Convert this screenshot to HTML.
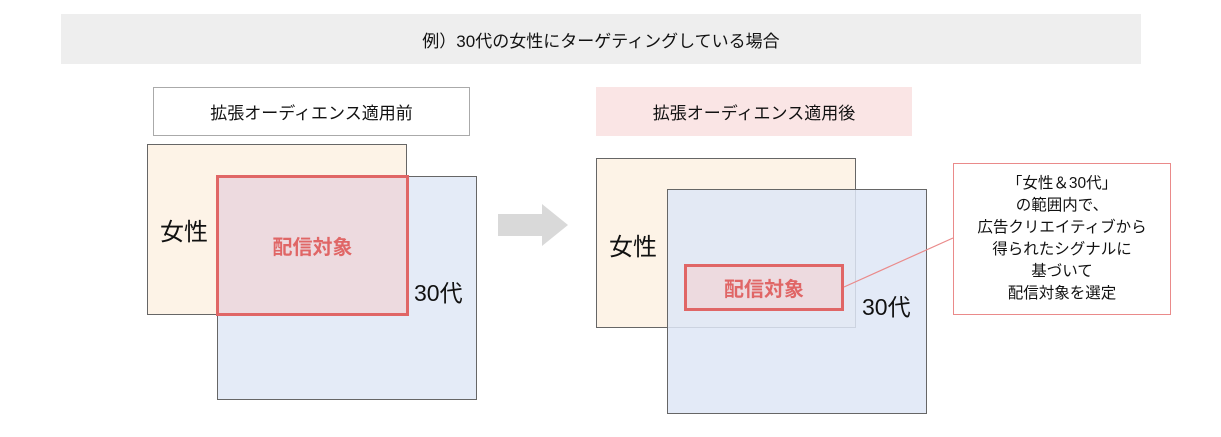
<!DOCTYPE html>
<html><head><meta charset="utf-8"><style>
body{margin:0;width:1221px;height:437px;background:#fff;position:relative;overflow:hidden;font-family:"Liberation Sans","Noto Sans CJK JP",sans-serif;color:#111}
.a{position:absolute;box-sizing:border-box}
.c{display:flex;align-items:center;justify-content:center;text-align:center}
</style></head><body>
<div class="a c" style="left:61px;top:14px;width:1080px;height:50px;background:#eeeeee;font-size:17px">例）30代の女性にターゲティングしている場合</div>

<div class="a c" style="left:153px;top:87px;width:317px;height:49px;border:1px solid #aaa;font-size:17px">拡張オーディエンス適用前</div>
<div class="a" style="left:147px;top:144px;width:260px;height:171px;background:#fdf3e7;border:1px solid #666"></div>
<div class="a" style="left:217px;top:176px;width:260px;height:224px;background:#e4ebf7;border:1px solid #666"></div>
<div class="a c" style="left:216px;top:175px;width:193px;height:141px;background:#eddadf;border:3px solid #e06666;color:#e06666;font-weight:bold;font-size:20px">配信対象</div>
<div class="a" style="left:160px;top:212px;font-size:24px">女性</div>
<div class="a" style="left:414px;top:274px;font-size:23px">30代</div>

<svg class="a" style="left:495px;top:202px" width="76" height="46"><polygon points="3,12 47,12 47,2 73,23 47,44 47,34 3,34" fill="#d9d9d9"/></svg>

<div class="a c" style="left:596px;top:87px;width:316px;height:49px;background:#fae5e5;font-size:17px">拡張オーディエンス適用後</div>
<div class="a" style="left:596px;top:158px;width:260px;height:170px;background:#fdf3e7;border:1px solid #666"></div>
<div class="a" style="left:667px;top:189px;width:260px;height:225px;background:rgba(222,230,246,0.85);border:1px solid #666"></div>
<div class="a c" style="left:684px;top:264px;width:160px;height:47px;background:#eddadf;border:3px solid #e06666;color:#e06666;font-weight:bold;font-size:20px">配信対象</div>
<div class="a" style="left:609px;top:227px;font-size:24px">女性</div>
<div class="a" style="left:862px;top:288px;font-size:23px">30代</div>
<svg class="a" style="left:0;top:0" width="1221" height="437"><line x1="844" y1="287" x2="953" y2="238" stroke="#ea8a8a" stroke-width="1.2"/></svg>
<div class="a c" style="left:953px;top:163px;width:218px;height:152px;border:1px solid #ea8a8a;background:#fff;font-size:15.5px;line-height:22px">「女性＆30代」<br>の範囲内で、<br>広告クリエイティブから<br>得られたシグナルに<br>基づいて<br>配信対象を選定</div>
</body></html>
